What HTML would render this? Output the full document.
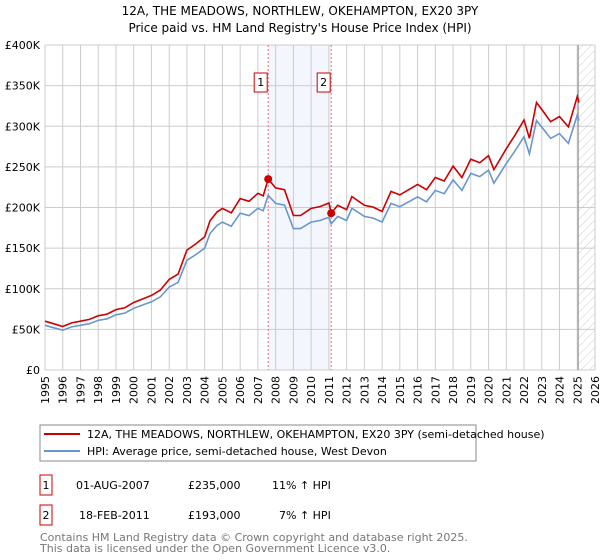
<!DOCTYPE html>
<html><head><meta charset="utf-8"><style>
body{margin:0;background:#fff;font-family:"DejaVu Sans","Liberation Sans",sans-serif;}
svg{display:block}
</style></head><body>
<svg id="c" width="600" height="560" xmlns="http://www.w3.org/2000/svg">
<defs><pattern id="hatch" width="6" height="6" patternUnits="userSpaceOnUse" patternTransform="rotate(45)"><line x1="0" y1="0" x2="0" y2="6" stroke="#ccc" stroke-width="1"/></pattern></defs>
<text x="300" y="15" text-anchor="middle" font-size="12" fill="#000">12A, THE MEADOWS, NORTHLEW, OKEHAMPTON, EX20 3PY</text>
<text x="300" y="32" text-anchor="middle" font-size="12" fill="#000">Price paid vs. HM Land Registry's House Price Index (HPI)</text>
<g id="grid"></g><g id="marks"></g><g id="axes"></g>
<rect x="40" y="425" width="436" height="36" fill="none" stroke="#888"/>
<line x1="44" y1="434" x2="80" y2="434" stroke="#cc0000" stroke-width="2"/>
<text x="87" y="438" font-size="11">12A, THE MEADOWS, NORTHLEW, OKEHAMPTON, EX20 3PY (semi-detached house)</text>
<line x1="44" y1="451" x2="80" y2="451" stroke="#6a96d0" stroke-width="2"/>
<text x="87" y="455" font-size="11">HPI: Average price, semi-detached house, West Devon</text>
<g font-size="11">
<rect x="40" y="475" width="12" height="20" fill="#fff" stroke="#cc0000"/><text x="46" y="489" text-anchor="middle">1</text>
<text x="76" y="489">01-AUG-2007</text><text x="188" y="489">£235,000</text><text x="272" y="489">11% ↑ HPI</text></g>
<g font-size="11">
<rect x="40" y="505" width="12" height="20" fill="#fff" stroke="#cc0000"/><text x="46" y="519" text-anchor="middle">2</text>
<text x="79" y="519">18-FEB-2011</text><text x="188" y="519">£193,000</text><text x="279" y="519">7% ↑ HPI</text></g>
<text x="40" y="541" font-size="11" fill="#777">Contains HM Land Registry data © Crown copyright and database right 2025.</text>
<text x="40" y="552" font-size="11" fill="#777">This data is licensed under the Open Government Licence v3.0.</text>
</svg>
<script>
const hpiYears=[1995,1995.5,1996,1996.5,1997,1997.5,1998,1998.5,1999,1999.5,2000,2000.5,2001,2001.5,2002,2002.5,2003,2003.5,2004,2004.3,2004.7,2005,2005.5,2006,2006.5,2007,2007.3,2007.58,2008,2008.5,2009,2009.4,2010,2010.5,2011,2011.13,2011.5,2012,2012.3,2013,2013.5,2014,2014.5,2015,2015.5,2016,2016.5,2017,2017.5,2018,2018.5,2019,2019.5,2020,2020.3,2021,2021.5,2022,2022.3,2022.7,2023,2023.5,2024,2024.5,2025,2025.1];
const hpiValues=[55,52,49,53,55,57,61,63,68,70,76,80,84,90,102,108,135,142,150,168,178,182,177,193,190,199,196,215,205,203,174,174,182,184,188,180,189,184,199,189,187,182,205,201,207,213,207,221,217,234,221,242,238,246,230,254,270,287,266,307,299,285,291,279,314,307];
const sales=[{year:2007.58,price:235},{year:2011.13,price:193}];
const tickYears=[1995,1996,1997,1998,1999,2000,2001,2002,2003,2004,2005,2006,2007,2008,2009,2010,2011,2012,2013,2014,2015,2016,2017,2018,2019,2020,2021,2022,2023,2024,2025,2026];
const yTicks=[0,50,100,150,200,250,300,350,400];
const yLabels=["£0","£50K","£100K","£150K","£200K","£250K","£300K","£350K","£400K"];
const X0=45,X1=595,Y0=370,Y1=45;
const xs=y=>X0+(y-1995)/31*(X1-X0);
const ys=v=>Y0-v/400*(Y0-Y1);
const NS="http://www.w3.org/2000/svg";
function mk(tag,attrs,parent){const e=document.createElementNS(NS,tag);for(const k in attrs)e.setAttribute(k,attrs[k]);parent.appendChild(e);return e;}
const grid=document.getElementById('grid'),marks=document.getElementById('marks'),axes=document.getElementById('axes');
let sh=mk('rect',{x:xs(sales[0].year),y:Y1,width:xs(sales[1].year)-xs(sales[0].year),height:Y0-Y1,fill:'#f3f6fd'},grid);


let ht=mk('rect',{x:xs(2025.05),y:Y1,width:X1-xs(2025.05),height:Y0-Y1,fill:'url(#hatch)'},grid);


tickYears.forEach(t=>{const l=mk('line',{x1:xs(t),x2:xs(t),y1:Y1,y2:Y0,stroke:'#ccc'},grid);


const tx=mk('text',{x:0,y:0,'font-size':11,'text-anchor':'end',transform:`translate(${xs(t)+4},${Y0+6}) rotate(-90)`},axes);tx.textContent=t;

});
yTicks.forEach((v,i)=>{const l=mk('line',{x1:X0,x2:X1,y1:ys(v),y2:ys(v),stroke:'#ccc'},grid);


const tx=mk('text',{x:X0-5,y:ys(v)+4,'font-size':11,'text-anchor':'end'},axes);tx.textContent=yLabels[i];

});
let vl=mk('line',{x1:xs(2025.05),x2:xs(2025.05),y1:Y1,y2:Y0,stroke:'#888'},grid);


sales.forEach((s,i)=>{const l=mk('line',{x1:xs(s.year),x2:xs(s.year),y1:Y1,y2:Y0,stroke:'#f07070','stroke-dasharray':'2,2'},grid);


const bx=mk('rect',{x:xs(s.year)-14,y:73,width:13,height:19,fill:'#fff',stroke:'#cc0000'},axes);


const t=mk('text',{x:xs(s.year)-7.5,y:86,'font-size':11,'text-anchor':'middle'},axes);t.textContent=i+1;

});
const hpiPts=hpiYears.map((y,i)=>xs(y).toFixed(1)+','+ys(hpiValues[i]).toFixed(1)).join(' ');
const bl=mk('polyline',{points:hpiPts,fill:'none',stroke:'#6a96d0','stroke-width':1.6},marks);


function hpiAt(y){for(let i=0;i<hpiYears.length-1;i++){if(y>=hpiYears[i]&&y<=hpiYears[i+1]){const f=(y-hpiYears[i])/(hpiYears[i+1]-hpiYears[i]);return hpiValues[i]+f*(hpiValues[i+1]-hpiValues[i]);}}return hpiValues[hpiValues.length-1];}
const r0=sales[0].price/hpiAt(sales[0].year),r1=sales[1].price/hpiAt(sales[1].year);
const redPts=hpiYears.map((y,i)=>{const r=y<sales[1].year?r0:r1;return xs(y).toFixed(1)+','+ys(hpiValues[i]*r).toFixed(1);}).join(' ');
const rl=mk('polyline',{points:redPts,fill:'none',stroke:'#cc0000','stroke-width':1.6},marks);


sales.forEach(s=>{const c=mk('circle',{cx:xs(s.year),cy:ys(s.price),r:4,fill:'#cc0000'},marks);

});
</script>
</body></html>
